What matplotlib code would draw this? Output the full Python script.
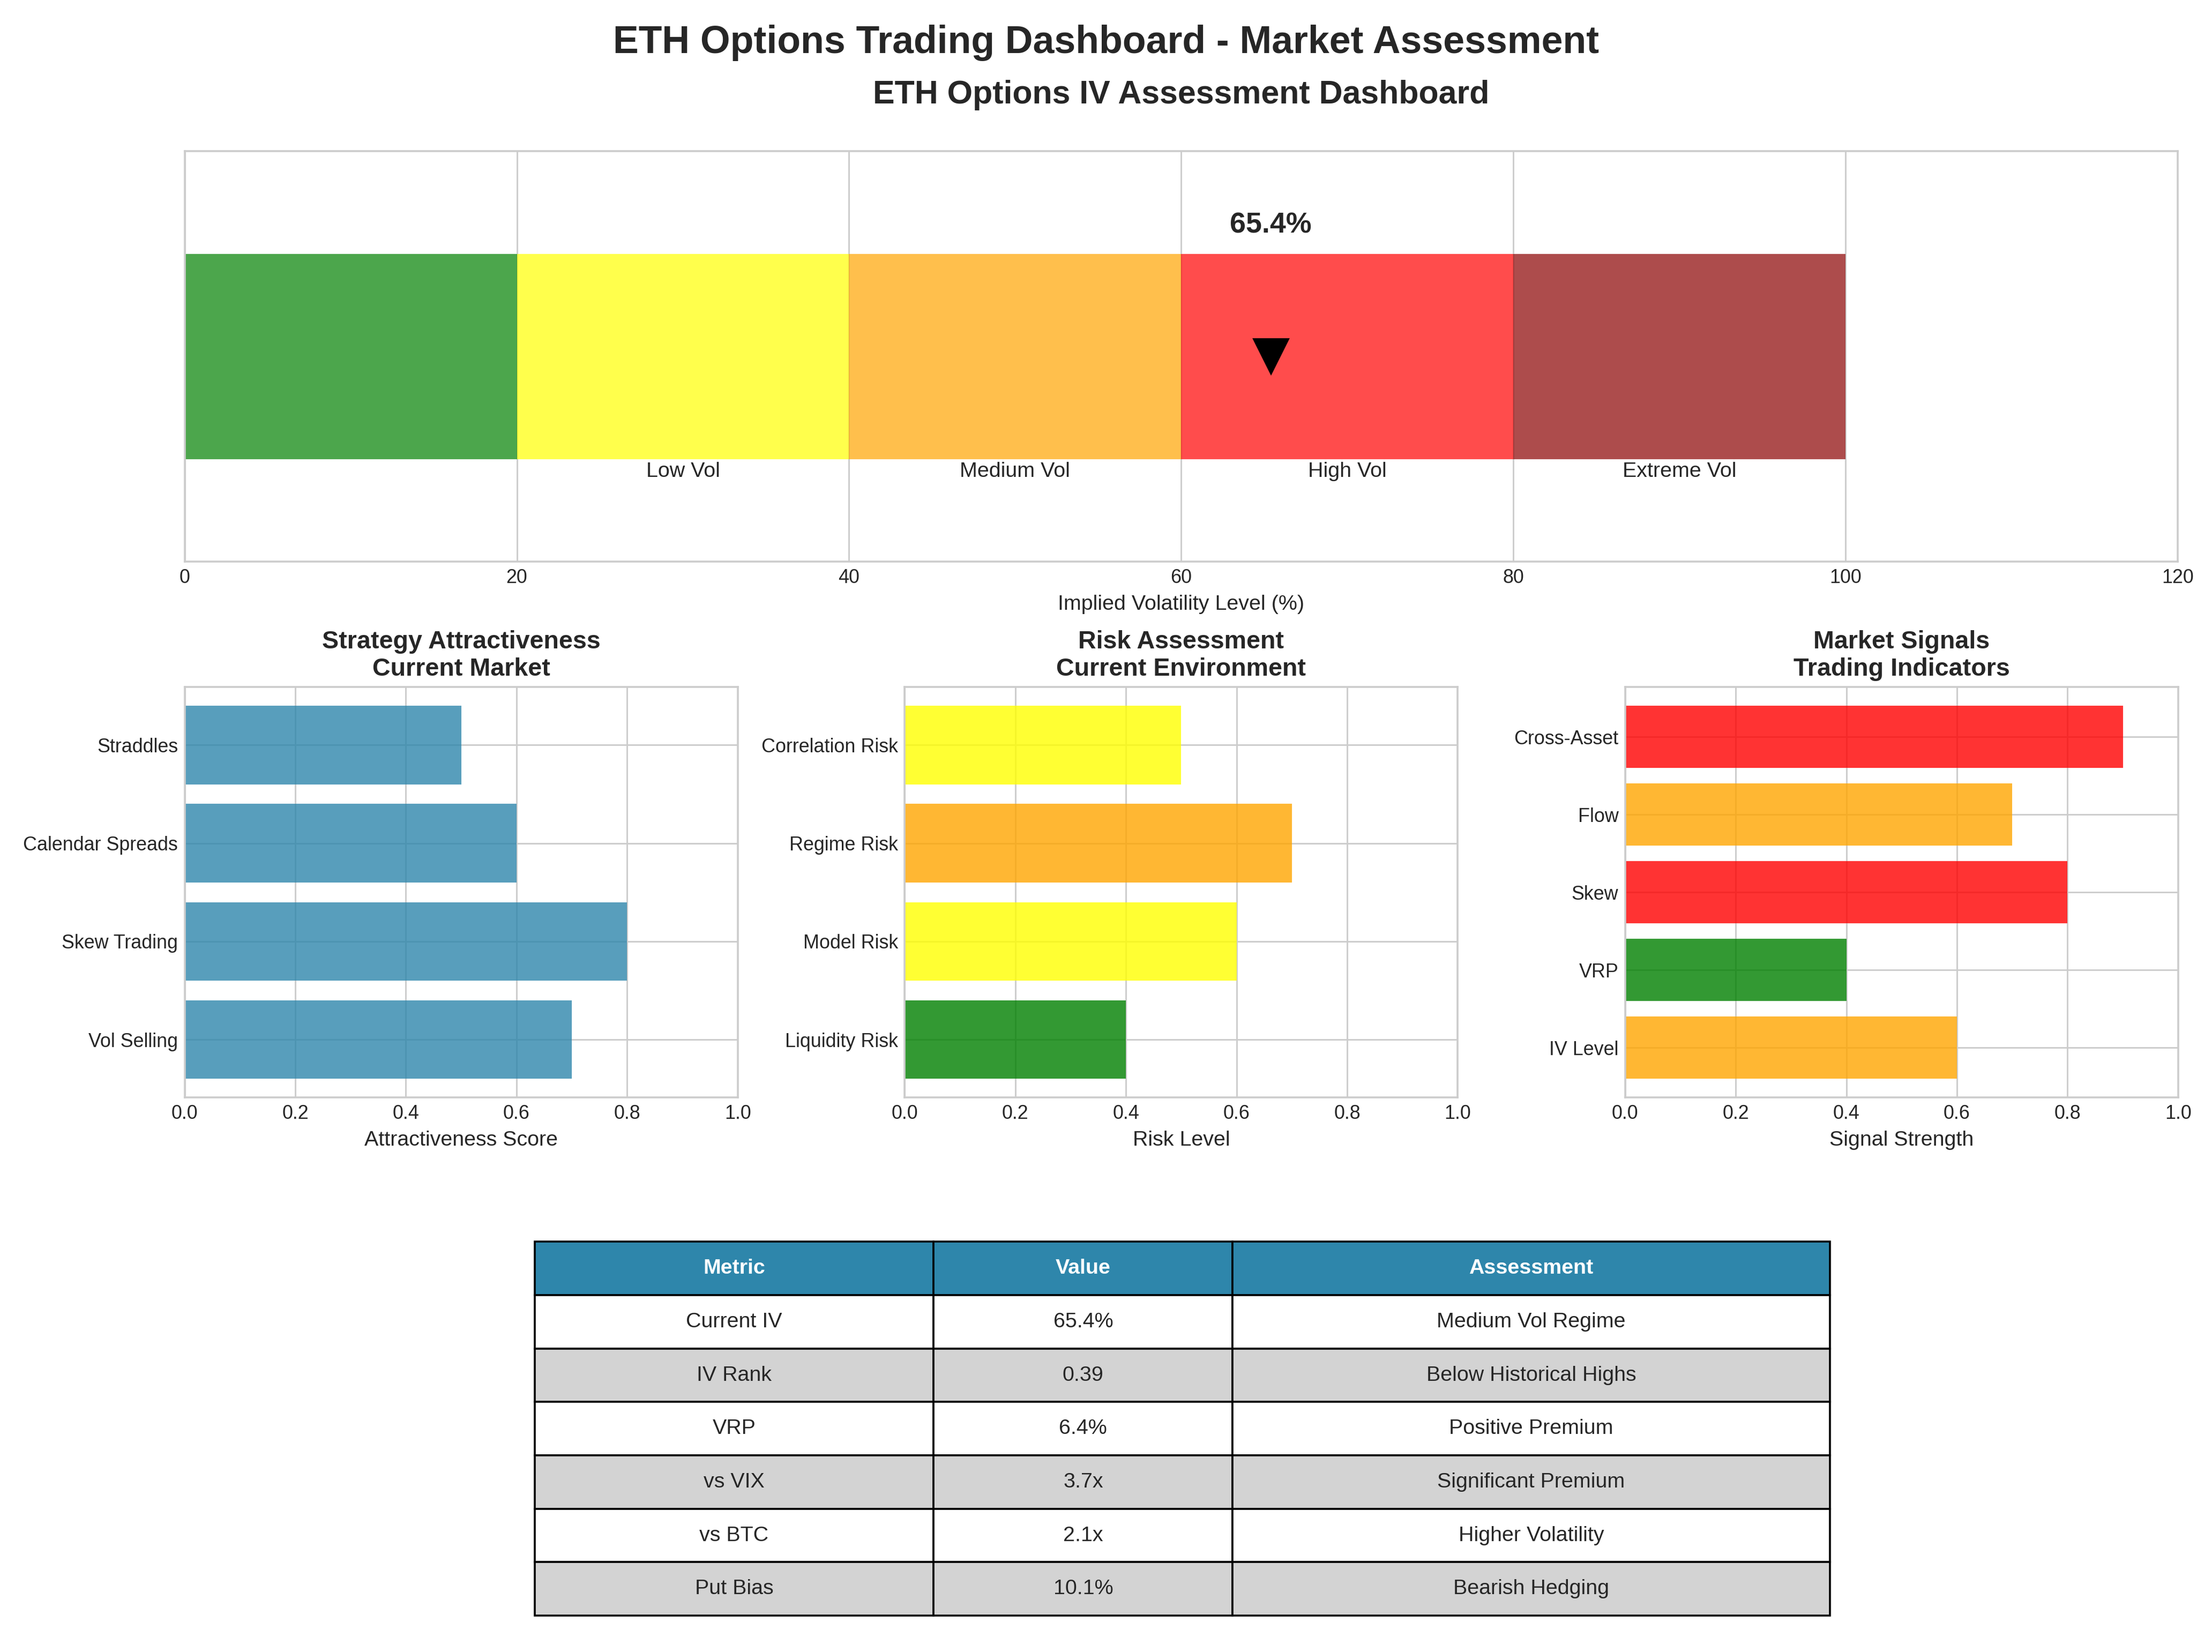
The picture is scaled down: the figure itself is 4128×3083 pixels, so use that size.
import matplotlib.pyplot as plt
import numpy as np

plt.style.use('seaborn-v0_8-whitegrid')
plt.rcParams['font.family'] = ['Liberation Sans', 'DejaVu Sans']

current_iv = 65.4
zone_edges = [0, 20, 40, 60, 80, 100]
zone_colors = ['green', 'yellow', 'orange', 'red', 'darkred']
zone_labels = ['', 'Low Vol', 'Medium Vol', 'High Vol', 'Extreme Vol']

strategies = ['Vol Selling', 'Skew Trading', 'Calendar Spreads', 'Straddles']
strategy_scores = [0.7, 0.8, 0.6, 0.5]

risks = ['Liquidity Risk', 'Model Risk', 'Regime Risk', 'Correlation Risk']
risk_levels = [0.4, 0.6, 0.7, 0.5]
risk_colors = ['green', 'yellow', 'orange', 'yellow']

signals = ['IV Level', 'VRP', 'Skew', 'Flow', 'Cross-Asset']
signal_strength = [0.6, 0.4, 0.8, 0.7, 0.9]
signal_colors = ['orange', 'green', 'red', 'orange', 'red']

table_cols = ['Metric', 'Value', 'Assessment']
table_rows = [
    ['Current IV', '65.4%', 'Medium Vol Regime'],
    ['IV Rank', '0.39', 'Below Historical Highs'],
    ['VRP', '6.4%', 'Positive Premium'],
    ['vs VIX', '3.7x', 'Significant Premium'],
    ['vs BTC', '2.1x', 'Higher Volatility'],
    ['Put Bias', '10.1%', 'Bearish Hedging'],
]

fig = plt.figure(figsize=(16, 11.95), dpi=258)
fig.suptitle('ETH Options Trading Dashboard - Market Assessment', fontsize=20,
             fontweight='bold', y=0.985)

# gauge
ax = fig.add_axes([0.0835, 0.660, 0.901, 0.2485])
for i in range(len(zone_colors)):
    lo, hi = zone_edges[i], zone_edges[i + 1]
    ax.barh(0.5, hi - lo, left=lo, height=0.5, color=zone_colors[i], alpha=0.7)
    if zone_labels[i]:
        ax.text((lo + hi) / 2 + 10 - 10 + 0, 0.22, zone_labels[i], ha='center',
                va='center', fontsize=11)
ax.plot(current_iv, 0.5, marker='v', color='black', markersize=18)
ax.text(current_iv, 0.82, f'{current_iv}%', ha='center', va='center',
        fontsize=15, fontweight='bold')
ax.set_xlim(0, 120)
ax.set_ylim(0, 1)
ax.set_yticks([])
ax.set_xlabel('Implied Volatility Level (%)', fontsize=11)
ax.set_title('ETH Options IV Assessment Dashboard', fontsize=17,
             fontweight='bold', pad=25)
for s in ax.spines.values():
    s.set_visible(True)
    s.set_color('#cccccc')


def bar_panel(rect, names, vals, colors, title, xlabel):
    a = fig.add_axes(rect)
    a.barh(names, vals, color=colors, alpha=0.8, height=0.8)
    a.set_xlim(0, 1)
    a.set_title(title, fontsize=13, fontweight='bold')
    a.set_xlabel(xlabel, fontsize=11)
    a.tick_params(axis='y', labelsize=10)
    for s in a.spines.values():
        s.set_visible(True)
        s.set_color('#cccccc')
    return a


bar_panel([0.0835, 0.3356, 0.25, 0.2485], strategies, strategy_scores, '#2E86AB',
          'Strategy Attractiveness\nCurrent Market', 'Attractiveness Score')
bar_panel([0.409, 0.3356, 0.25, 0.2485], risks, risk_levels, risk_colors,
          'Risk Assessment\nCurrent Environment', 'Risk Level')
bar_panel([0.7347, 0.3356, 0.25, 0.2485], signals, signal_strength, signal_colors,
          'Market Signals\nTrading Indicators', 'Signal Strength')

# table
tax = fig.add_axes([0.2417, 0.022, 0.5855, 0.2263])
tax.axis('off')
tbl = tax.table(cellText=table_rows, colLabels=table_cols, loc='center',
                cellLoc='center', colWidths=[0.308, 0.231, 0.461],
                bbox=[0, 0, 1, 1])
tbl.auto_set_font_size(False)
tbl.set_fontsize(11)
for (r, c), cell in tbl.get_celld().items():
    if r == 0:
        cell.set_facecolor('#2E86AB')
        cell.set_text_props(color='white', fontweight='bold')
    elif r % 2 == 0:
        cell.set_facecolor('lightgray')
    else:
        cell.set_facecolor('white')

fig.savefig('out.png', dpi=258)
